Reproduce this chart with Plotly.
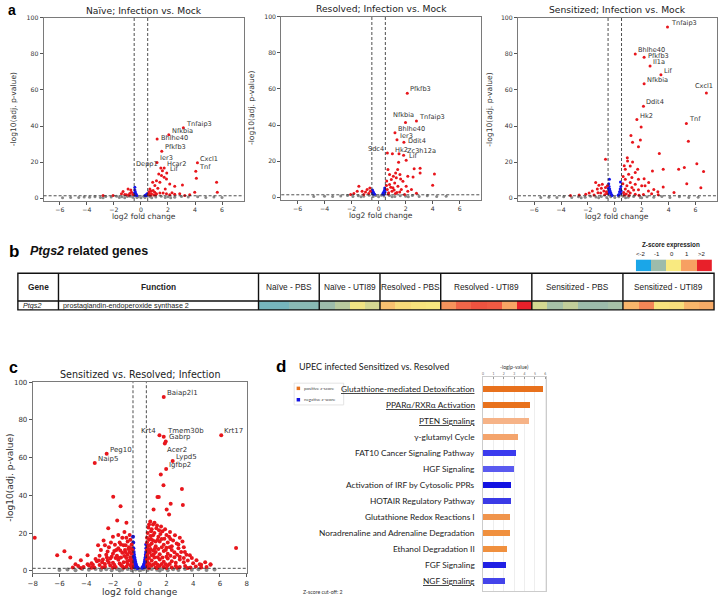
import plotly.graph_objects as go

W, H = 720, 598
def px(x): return x / W
def py(y): return 1 - y / H

FC_CUT = 0.5
P_CUT = 1.3

# ---------------- panel a1: Naive ----------------
naive_labels = ["Tnfaip3", "Nfkbia", "Bhlhe40", "Pfkfb3", "Ier3", "Depp1", "Hcar2", "Lif", "Cxcl1", "Tnf"]
naive_red = [(3.14, 39.1), (2.06, 35.2), (1.2, 32.8), (1.54, 26.0), (1.19, 19.8), (1.47, 16.7), (1.72, 16.7),
             (1.91, 14.0), (4.18, 19.6), (4.06, 14.9),
             (1.59, 15.2), (1.32, 13.4), (1.52, 12.5), (1.72, 11.6), (1.89, 10.6), (1.15, 9.7), (0.87, 8.8),
             (1.4, 8.8), (2.13, 7.9), (1.03, 7.0), (2.5, 6.6), (3.07, 7.3), (4.1, 11.0), (5.6, 8.8), (5.65, 3.3),
             (3.98, 3.3), (0.66, 5.1), (0.78, 2.4), (1.02, 3.3), (1.15, 2.4), (1.4, 2.9), (1.64, 2.9), (1.89, 2.4),
             (2.13, 1.8), (2.5, 2.2), (2.87, 2.4), (3.24, 1.5), (3.61, 1.8), (0.6, 3.5), (0.7, 1.6), (0.9, 4.2),
             (1.25, 5.5), (0.55, 2.0), (0.95, 1.7), (1.8, 5.0), (2.3, 3.0), (0.62, 2.8), (0.75, 3.9), (1.1, 1.9),
             (-1.32, 3.7), (-0.95, 5.1), (-0.83, 2.6), (-1.07, 1.8), (-1.44, 2.4), (-2.06, 1.5), (-2.8, 1.5),
             (-0.7, 3.3), (-0.6, 2.0), (-1.2, 2.0), (-0.75, 4.5), (-0.9, 1.6)]
naive_blue = [(-0.45, 6.0), (-0.45, 4.5), (-0.42, 3.5), (-0.48, 2.8), (-0.4, 2.2), (-0.35, 1.8), (-0.45, 1.6),
              (-0.3, 1.5), (0.3, 1.5), (0.38, 1.9), (0.45, 2.2), (0.42, 1.6), (0.48, 2.6), (0.35, 1.4), (-0.38, 2.6)]
naive_gray = [(-5.8, 0.2), (-5.2, 0.4), (-4.6, 0.3), (-4.2, 0.6), (-3.8, 0.5), (-3.4, 0.8), (-3.0, 0.4), (-2.6, 0.9),
              (-2.2, 0.6), (-1.8, 1.0), (-1.4, 0.7), (-1.0, 0.9), (-0.6, 0.5), (-0.3, 0.3), (0.0, 0.2), (0.3, 0.4),
              (0.7, 0.8), (1.1, 0.6), (1.5, 1.0), (2.0, 0.7), (2.5, 0.5), (3.0, 0.9), (3.5, 0.6), (4.2, 0.8),
              (4.8, 0.4), (5.4, 0.6), (6.0, 0.3), (-2.8, 0.2), (-1.2, 0.2), (0.8, 0.2), (2.2, 0.2), (-0.2, 0.8),
              (0.2, 1.0), (-1.6, 0.3), (1.8, 0.3), (-0.8, 1.1), (0.5, 1.1)]

# ---------------- panel a2: Resolved ----------------
resolved_labels = ["Pfkfb3", "Nfkbia", "Tnfaip3", "Bhlhe40", "Ier3", "Ddit4", "Sdc4", "Hk2", "Zc3h12a", "Lif"]
resolved_red = [(2.12, 57.6), (1.99, 41.4), (2.8, 42.2), (1.21, 35.7), (1.36, 31.9), (1.87, 30.4), (0.65, 24.5),
                (1.02, 24.1), (1.85, 23.2), (2.04, 20.4),
                (1.51, 24.1), (1.48, 19.3), (1.41, 15.3), (1.26, 13.4), (1.09, 11.6), (1.58, 12.5), (0.69, 15.3),
                (0.81, 12.5), (0.94, 9.8), (1.19, 7.9), (1.43, 6.1), (1.68, 4.2), (0.81, 7.0), (0.64, 4.2),
                (0.74, 2.4), (0.99, 3.3), (1.24, 2.0), (1.56, 2.8), (1.92, 1.5), (2.16, 3.3), (2.04, 6.1), (1.8, 8.8),
                (2.16, 11.6), (1.63, 10.1), (1.31, 10.7), (1.06, 5.2), (2.63, 15.8), (3.07, 16.0), (3.07, 13.4),
                (4.13, 12.9), (4.0, 6.6), (2.55, 11.2), (2.8, 2.2), (2.43, 4.2), (0.58, 6.5), (0.6, 9.0), (0.72, 1.7),
                (0.9, 5.5), (1.15, 4.0), (1.35, 2.5),
                (-1.46, 6.1), (-1.83, 2.0), (-1.22, 3.3), (-0.85, 4.2), (-0.73, 2.0), (-1.1, 1.5), (-1.58, 3.3),
                (-0.61, 3.3), (-0.97, 2.8), (-2.07, 1.5), (-0.65, 5.0)]
resolved_blue = [(-0.45, 4.0), (-0.4, 3.0), (-0.35, 2.2), (-0.45, 2.5), (-0.3, 1.6), (-0.42, 1.8), (0.3, 1.8),
                 (0.35, 2.5), (0.42, 3.5), (0.45, 5.0), (0.48, 2.8), (0.4, 1.6), (0.47, 4.2), (-0.48, 3.4)]
resolved_gray = [(-4.8, 0.3), (-4.0, 0.5), (-3.4, 0.3), (-2.8, 0.6), (-2.3, 0.9), (-1.9, 0.4), (-1.5, 0.8),
                 (-1.1, 0.5), (-0.7, 1.0), (-0.4, 0.4), (0.0, 0.2), (0.4, 0.6), (0.8, 0.9), (1.2, 0.4), (1.6, 0.8),
                 (2.0, 0.5), (2.5, 0.9), (3.0, 0.4), (3.6, 0.7), (4.3, 0.3), (5.0, 0.5), (-0.2, 0.9), (0.2, 1.1),
                 (-1.3, 0.2), (1.0, 0.2), (2.2, 0.2)]

# ---------------- panel a3: Sensitized ----------------
sensitized_labels = ["Tnfaip3", "Bhlhe40", "Pfkfb3", "Il1a", "Lif", "Nfkbia", "Cxcl1", "Ddit4", "Hk2", "Tnf"]
sensitized_red = [(3.92, 94.9), (1.52, 80.0), (2.18, 78.1), (2.62, 73.3), (3.43, 68.4), (2.18, 63.4), (6.81, 58.3),
                  (2.13, 50.9), (1.64, 43.6), (5.32, 41.4),
                  (1.96, 39.5), (5.47, 31.6), (1.2, 34.7), (1.32, 31.0), (1.9, 32.2), (1.76, 28.5), (3.31, 24.8),
                  (0.93, 22.4), (0.95, 20.6), (1.32, 20.0), (1.15, 17.8), (0.78, 16.0), (1.7, 16.0), (1.52, 14.2),
                  (1.03, 13.2), (1.27, 11.4), (0.78, 10.5), (1.76, 10.5), (2.18, 10.8), (1.15, 8.6), (1.52, 7.7),
                  (0.9, 6.8), (2.0, 6.8), (2.25, 6.8), (2.8, 15.0), (3.6, 16.0), (1.27, 5.9), (0.78, 5.0),
                  (1.76, 4.6), (2.5, 4.0), (0.66, 3.1), (1.15, 2.8), (1.52, 2.2), (2.13, 2.0), (2.74, 2.4),
                  (3.23, 1.8), (0.7, 1.7), (1.05, 1.5), (2.52, 8.6), (4.75, 16.0), (5.17, 17.0), (6.1, 19.1),
                  (6.6, 14.7), (6.4, 5.7), (5.35, 8.0), (3.6, 6.2), (4.4, 3.1), (0.6, 8.0), (0.62, 12.0),
                  (0.7, 18.0), (1.0, 3.8), (1.4, 4.5), (0.85, 2.3), (2.9, 4.8), (3.2, 3.5), (1.8, 1.6),
                  (-0.69, 21.5), (-1.42, 8.6), (-1.18, 7.2), (-0.93, 7.7), (-1.3, 5.0), (-1.67, 4.0), (-1.91, 2.8),
                  (-2.16, 2.2), (-0.69, 5.9), (-0.81, 4.0), (-1.05, 2.8), (-1.54, 1.7), (-2.65, 1.7), (-0.6, 2.5),
                  (-0.62, 3.5), (-0.75, 1.8), (-1.0, 5.5), (-1.25, 3.0), (-0.55, 6.8), (-3.3, 1.5)]
sensitized_blue = [(-0.4, 10.5), (-0.45, 8.0), (-0.42, 6.5), (-0.38, 5.0), (-0.35, 4.0), (-0.3, 3.0), (-0.25, 2.0),
                   (-0.45, 3.5), (-0.48, 5.5), (0.3, 2.0), (0.35, 3.5), (0.4, 5.0), (0.45, 6.5), (0.42, 9.0),
                   (0.48, 4.0), (0.25, 1.6), (-0.2, 1.5), (-0.47, 2.4), (0.47, 2.6), (-0.43, 4.5), (0.44, 4.5)]
sensitized_gray = [(-5.5, 0.3), (-4.9, 0.5), (-4.3, 0.3), (-3.8, 0.7), (-3.2, 0.4), (-2.7, 0.8), (-2.2, 0.5),
                   (-1.8, 1.0), (-1.4, 0.6), (-1.0, 0.9), (-0.6, 0.4), (-0.3, 0.8), (0.0, 0.3), (0.3, 0.7),
                   (0.6, 1.0), (1.0, 0.5), (1.4, 0.9), (1.9, 0.4), (2.4, 0.8), (2.9, 0.5), (3.5, 0.9), (4.1, 0.4),
                   (4.8, 0.7), (5.5, 0.3), (6.2, 0.5), (-2.5, 0.2), (-1.2, 0.2), (0.8, 0.2), (2.0, 0.2)]

# ---------------- panel c: Sensitized vs Resolved ----------------
svr_labels = ["Baiap2l1", "Krt4", "Tmem30b", "Gabrp", "Acer2", "Krt17", "Peg10", "Naip5", "Lypd5", "Igfbp2"]
svr_red = [(1.8, 92.1), (1.48, 71.8), (1.8, 71.0), (1.95, 68.6), (1.88, 67.5), (6.1, 71.9), (-2.47, 62.1),
           (-3.36, 57.2), (2.47, 58.2), (1.98, 53.9),
           (1.58, 51.0), (1.78, 45.4), (3.16, 43.3), (3.23, 34.9), (2.32, 35.6), (1.33, 39.1), (1.43, 39.1),
           (1.04, 32.5), (2.02, 32.5), (2.2, 29.8), (-1.98, 39.3), (-1.43, 34.2), (-7.85, 17.5), (-6.17, 8.2),
           (-5.63, 10.4), (-5.19, 7.0), (7.21, 12.1), (4.49, 3.5), (5.3, 3.5),
           # left cloud
           (-5.0, 1.8), (-4.6, 2.5), (-4.2, 2.0), (-3.8, 2.8), (-3.4, 1.8), (-3.0, 3.0), (-2.6, 2.2), (-2.2, 2.8),
           (-1.8, 2.0), (-1.4, 3.0), (-1.0, 2.2), (-0.7, 2.8), (-4.4, 1.5), (-3.6, 1.6), (-2.8, 1.7), (-2.0, 1.6),
           (-1.2, 1.6), (-0.6, 1.6), (-3.6, 4.0), (-3.2, 5.0), (-2.8, 4.5), (-2.4, 5.5), (-2.0, 4.2), (-1.6, 5.8),
           (-1.2, 4.5), (-0.8, 5.5), (-0.6, 4.0), (-2.2, 6.5), (-1.0, 6.8), (-1.4, 7.0), (-3.0, 8.0), (-2.5, 8.5),
           (-2.0, 9.0), (-1.7, 8.0), (-1.3, 9.5), (-0.9, 8.5), (-0.6, 9.0), (-1.9, 10.5), (-1.1, 11.0),
           (-2.3, 12.5), (-1.6, 12.0), (-1.2, 13.5), (-0.8, 12.5), (-0.6, 14.0), (-1.5, 15.0), (-2.6, 13.5),
           (-0.9, 15.5), (-3.11, 13.5), (-2.35, 22.6), (-1.14, 20.5), (-1.68, 26.7), (-0.99, 25.4), (-3.9, 8.2),
           (-4.4, 5.6), (-2.9, 11.0), (-2.0, 18.0), (-1.3, 17.5), (-0.75, 19.0), (-2.7, 16.0), (-1.8, 6.8),
           (-0.7, 7.2), (-2.6, 3.6), (-1.5, 3.8), (-0.9, 3.6), (-3.3, 6.3), (-1.3, 2.4), (-2.4, 10.2),
           (-0.55, 2.5), (-0.65, 6.0), (-0.75, 10.0), (-0.85, 11.5), (-0.65, 12.0), (-0.55, 11.0), (-1.05, 9.8),
           (-1.15, 7.8), (-1.45, 10.8), (-1.75, 11.0), (-1.55, 6.8), (-2.1, 7.5), (-2.45, 7.0), (-2.75, 6.0),
           (-3.05, 5.5), (-3.5, 3.2), (-3.9, 3.5), (-4.8, 3.5), (-0.7, 16.5), (-1.05, 13.5), (-1.4, 14.0),
           (-1.85, 13.8), (-2.15, 15.0), (-1.0, 17.5), (-1.6, 19.0), (-0.6, 5.2), (-0.95, 4.8), (-1.9, 3.2),
           (-2.3, 4.2),
           # right cloud
           (0.6, 2.0), (0.9, 2.8), (1.2, 1.8), (1.5, 2.6), (1.8, 2.0), (2.1, 2.8), (2.4, 1.8), (2.7, 2.5), (3.0, 2.0),
           (3.4, 2.6), (3.8, 1.8), (4.2, 2.3), (4.6, 1.7), (5.0, 2.0), (0.7, 1.5), (1.3, 1.5), (2.0, 1.5), (2.8, 1.6),
           (3.6, 1.5), (5.3, 3.2), (0.6, 4.5), (0.9, 5.5), (1.2, 4.2), (1.5, 6.0), (1.8, 4.8), (2.1, 6.5), (2.4, 5.0),
           (2.7, 4.2), (3.0, 6.0), (3.3, 4.5), (3.6, 5.5), (4.0, 4.0), (0.7, 6.8), (1.1, 7.0), (2.6, 7.2),
           (4.25, 5.6), (0.6, 9.0), (0.9, 8.2), (1.2, 10.0), (1.5, 8.8), (1.8, 10.5), (2.1, 9.0), (2.4, 11.0),
           (2.8, 8.5), (3.1, 10.0), (3.38, 10.0), (3.75, 8.2), (0.8, 11.5), (1.4, 11.5), (0.6, 13.0), (0.9, 14.5),
           (1.2, 13.0), (1.5, 15.5), (1.8, 13.8), (2.1, 15.0), (2.4, 13.0), (2.77, 14.4), (1.0, 16.0), (0.7, 16.5),
           (2.0, 12.2), (0.8, 18.5), (1.1, 20.0), (1.4, 18.0), (1.7, 21.0), (2.0, 19.0), (2.27, 20.5), (2.64, 18.8),
           (0.6, 20.0), (1.25, 22.5), (0.9, 22.0), (0.79, 26.1), (1.11, 25.4), (1.3, 24.0), (1.6, 23.5),
           (1.0, 24.5), (3.0, 17.5), (3.2, 15.5), (2.9, 12.0), (0.75, 3.6), (1.05, 3.4), (1.35, 3.2), (1.65, 3.6),
           (1.95, 3.4), (2.25, 3.6), (0.65, 11.0), (1.0, 10.8), (1.65, 16.8), (2.3, 16.8),
           (0.55, 3.0), (0.55, 6.0), (0.55, 8.0), (0.55, 11.0), (0.55, 15.0), (0.55, 17.5), (0.65, 23.0),
           (0.75, 13.5), (0.85, 16.8), (1.0, 18.8), (1.2, 15.5), (1.35, 16.5), (1.55, 19.5), (1.85, 17.0),
           (2.2, 18.0), (2.5, 16.0), (2.9, 14.0), (3.3, 12.5), (3.5, 8.5), (3.9, 6.8), (4.6, 3.2), (4.9, 4.5),
           (1.15, 12.0), (1.65, 12.5), (1.95, 11.0), (2.25, 12.5), (2.6, 9.8), (3.0, 7.5), (3.3, 6.8), (0.75, 9.8),
           (1.05, 8.8), (1.35, 7.2), (1.7, 7.0), (2.0, 7.5), (2.3, 8.0), (0.85, 21.0), (1.45, 21.5), (1.9, 22.0),
           (0.7, 24.5)]
svr_blue = [(-0.5, 18.0), (-0.48, 15.0), (-0.47, 12.0), (-0.45, 10.0), (-0.43, 8.5), (-0.4, 7.0), (-0.38, 6.0),
            (-0.35, 5.0), (-0.32, 4.0), (-0.28, 3.0), (-0.25, 2.4), (-0.2, 1.8), (-0.15, 1.5), (-0.45, 5.0),
            (-0.42, 3.0), (-0.48, 7.0), (-0.46, 2.0), (0.5, 12.0), (0.48, 10.0), (0.46, 8.5), (0.44, 7.0),
            (0.42, 6.0), (0.4, 5.0), (0.37, 4.0), (0.33, 3.2), (0.3, 2.6), (0.25, 2.0), (0.2, 1.6), (0.45, 4.0),
            (0.47, 3.0), (0.48, 5.5), (0.43, 2.2), (0.49, 14.0), (-0.49, 9.0), (0.49, 7.5), (-0.4, 4.0), (0.38, 2.4)]
svr_gray = [(-6.0, 0.4), (-5.4, 0.7), (-4.8, 0.3), (-4.3, 0.9), (-3.8, 0.5), (-3.3, 1.0), (-2.9, 0.4), (-2.5, 0.8),
            (-2.1, 0.3), (-1.7, 1.0), (-1.3, 0.5), (-0.9, 0.9), (-0.6, 0.3), (-0.3, 0.7), (0.0, 0.3), (0.3, 0.8),
            (0.6, 0.4), (0.9, 1.0), (1.3, 0.5), (1.7, 0.9), (2.1, 0.3), (2.5, 0.8), (2.9, 0.4), (3.4, 0.9),
            (3.9, 0.5), (4.4, 0.8), (5.0, 0.4), (5.6, 0.7), (-1.5, 0.1), (1.5, 0.1), (-0.1, 1.1), (0.1, 0.6)]

# ---------------- panel b: heatmap row (z-scores per sample) ----------------
groups = ["Naïve - PBS", "Naïve - UTI89", "Resolved - PBS", "Resolved - UTI89", "Sensitized - PBS", "Sensitized - UTI89"]
group_sizes = [4, 4, 4, 6, 6, 6]
ptgs2_z = [-1.3, -1.3, -1.15, -1.15,
           -1.0, -0.7, -0.1, -0.4,
           0.55, 0.2, 0.1, 0.05,
           1.1, 1.45, 1.6, 1.55, 0.95, 2.1,
           -0.4, -0.9, -0.6, -1.0, -1.0, -0.9,
           0.7, 1.2, 0.1, 0.15, 0.7, 0.85]
z_legend_vals = [-2, -1, 0, 1, 2]
z_legend_text = ["<-2", "-1", "0", "1", ">2"]

# ---------------- panel d: pathways ----------------
pathways = ["Glutathione-mediated Detoxification", "PPARα/RXRα Activation", "PTEN Signaling", "γ-glutamyl Cycle",
            "FAT10 Cancer Signaling Pathway", "HGF Signaling", "Activation of IRF by Cytosolic PPRs",
            "HOTAIR Regulatory Pathway", "Glutathione Redox Reactions I", "Noradrenaline and Adrenaline Degradation",
            "Ethanol Degradation II", "FGF Signaling", "NGF Signaling"]
neglogp = [5.81, 4.48, 4.42, 3.38, 3.16, 2.94, 2.72, 2.65, 2.62, 2.59, 2.34, 2.21, 2.11]
bar_colors = ["#e8711c", "#e8711c", "#f6b387", "#f4a46c", "#3b3bee", "#5a5af0", "#1212e2", "#3a3ae6",
              "#f0944c", "#f0903e", "#f0903e", "#2020e4", "#4444ea"]
underlined = [True, True, True, False, False, False, False, False, False, False, False, False, True]

RED, BLUE, GRAY = "#e8161c", "#1616ee", "#8a8a8a"
HEAT_SCALE = [[0, "#1aa6e8"], [0.25, "#9dbcab"], [0.5, "#f9ea80"], [0.75, "#f7a062"], [1, "#e8202a"]]

fig = go.Figure()
annotations = []
shapes = []
layout = {}

DJ = "DejaVu Sans"

def unzip(pts):
    return [p[0] for p in pts], [p[1] for p in pts]

def ax_ref(i):
    return ("x", "y") if i == 1 else (f"x{i}", f"y{i}")

def ax_key(i):
    return ("xaxis", "yaxis") if i == 1 else (f"xaxis{i}", f"yaxis{i}")

PLACE = {
    "r": dict(xanchor="left", yanchor="bottom", xshift=1, yshift=-2),
    "ru": dict(xanchor="left", yanchor="bottom", xshift=1, yshift=0),
    "rm": dict(xanchor="left", yanchor="middle", xshift=2, yshift=1),
    "l": dict(xanchor="right", yanchor="bottom", xshift=-1, yshift=-2),
    "c": dict(xanchor="center", yanchor="bottom", xshift=-2, yshift=1),
    "rb": dict(xanchor="left", yanchor="top", xshift=0, yshift=-1),
}

def volcano(i, red, blue, gray, labels, places, xdom, ydom, xr, yr, title, title_y, ylab_x,
            msize, tick_fs, lab_fs, title_fs, axt_fs, xtick_vals, xlab_off):
    xa, ya = ax_ref(i)
    kx, ky = ax_key(i)
    for pts, col in ((gray, GRAY), (blue, BLUE), (red, RED)):
        xs, ys = unzip(pts)
        fig.add_trace(go.Scatter(x=xs, y=ys, mode="markers", xaxis=xa, yaxis=ya, showlegend=False,
                                 marker=dict(size=msize, color=col, line=dict(width=0))))
    axis_common = dict(showgrid=False, zeroline=False, showline=True, mirror=True, linecolor="#7a7a7a",
                       linewidth=1, ticks="outside", ticklen=3, tickcolor="#555",
                       tickfont=dict(family=DJ, size=tick_fs, color="#333"))
    layout[kx] = dict(domain=[px(xdom[0]), px(xdom[1])], range=xr, anchor=ya,
                      tickvals=xtick_vals, **axis_common)
    layout[ky] = dict(domain=[py(ydom[1]), py(ydom[0])], range=yr, anchor=xa,
                      tickvals=[0, 20, 40, 60, 80, 100], **axis_common)
    dl = dict(color="#222", width=0.8, dash="3px,2px")
    shapes.append(dict(type="line", xref=xa, yref=f"{ya} domain", x0=-FC_CUT, x1=-FC_CUT, y0=0, y1=1, line=dl))
    shapes.append(dict(type="line", xref=xa, yref=f"{ya} domain", x0=FC_CUT, x1=FC_CUT, y0=0, y1=1, line=dl))
    shapes.append(dict(type="line", xref=f"{xa} domain", yref=ya, x0=0, x1=1, y0=P_CUT, y1=P_CUT, line=dl))
    for k, name in enumerate(labels):
        annotations.append(dict(xref=xa, yref=ya, x=red[k][0], y=red[k][1], text=name, showarrow=False,
                                font=dict(family=DJ, size=lab_fs, color="#333"), **PLACE[places[k]]))
    xc = (xdom[0] + xdom[1]) / 2
    annotations.append(dict(xref="paper", yref="paper", x=px(xc), y=py(title_y), text=title, showarrow=False,
                            font=dict(family=DJ, size=title_fs, color="#222"), xanchor="center", yanchor="middle"))
    annotations.append(dict(xref="paper", yref="paper", x=px(xc), y=py(ydom[1] + xlab_off), text="log2 fold change",
                            showarrow=False, font=dict(family=DJ, size=axt_fs, color="#333"),
                            xanchor="center", yanchor="middle"))
    annotations.append(dict(xref="paper", yref="paper", x=px(ylab_x), y=py((ydom[0] + ydom[1]) / 2),
                            text="-log10(adj. p-value)", showarrow=False, textangle=-90,
                            font=dict(family=DJ, size=axt_fs, color="#333"), xanchor="center", yanchor="middle"))

xt_a = [-6, -4, -2, 0, 2, 4, 6]
volcano(1, naive_red, naive_blue, naive_gray, naive_labels, ["r", "r", "rm", "r", "r", "l", "r", "r", "r", "r"],
        (39, 241), (14, 199), [-7.2, 7.6], [-1.6, 100], "Naïve; Infection vs. Mock", 7, 9,
        3, 6.2, 6.6, 9.2, 7.6, xt_a, 16)
volcano(2, resolved_red, resolved_blue, resolved_gray, resolved_labels, ["r", "c", "r", "r", "r", "rm", "l", "r", "r", "r"],
        (279, 481), (13, 198), [-7.2, 7.6], [-1.6, 100], "Resolved; Infection vs. Mock", 5, 249,
        3, 6.2, 6.6, 9.2, 7.6, xt_a, 16)
volcano(3, sensitized_red, sensitized_blue, sensitized_gray, sensitized_labels,
        ["r", "r", "rm", "r", "r", "r", "c", "r", "r", "r"],
        (518, 719), (14, 199), [-7.2, 7.6], [-1.6, 100], "Sensitized; Infection vs. Mock", 6, 489,
        3, 6.2, 6.6, 9.2, 7.6, xt_a, 16)
volcano(4, svr_red, svr_blue, svr_gray, svr_labels, ["r", "l", "ru", "r", "rb", "r", "r", "r", "r", "r"],
        (28, 244), (382, 575), [-8, 8], [-1.3, 100], "Sensitized vs. Resolved; Infection", 374, 5,
        4.0, 7.0, 7.0, 9.6, 9.0, [-8, -6, -4, -2, 0, 2, 4, 6, 8], 18.5)

# ---------------- panel b ----------------
ncell = len(ptgs2_z)
fig.add_trace(go.Heatmap(z=[ptgs2_z], x=list(range(ncell)), y=[0], xaxis="x6", yaxis="y6", zmin=-2, zmax=2,
                         colorscale=HEAT_SCALE, showscale=False, hoverinfo="skip"))
layout["xaxis6"] = dict(domain=[px(256), px(716)], range=[-0.5, ncell - 0.5], visible=False, anchor="y6")
layout["yaxis6"] = dict(domain=[py(309), py(300)], range=[-0.5, 0.5], visible=False, anchor="x6")

fig.add_trace(go.Heatmap(z=[z_legend_vals], x=list(range(len(z_legend_vals))), y=[0], xaxis="x7", yaxis="y7",
                         zmin=-2, zmax=2, colorscale=HEAT_SCALE, showscale=False, hoverinfo="skip"))
layout["xaxis7"] = dict(domain=[px(637), px(714)], range=[-0.5, 4.5], visible=False, anchor="y7")
layout["yaxis7"] = dict(domain=[py(270), py(258)], range=[-0.5, 0.5], visible=False, anchor="x7")
for k, t in enumerate(z_legend_text):
    annotations.append(dict(xref="x7", yref="paper", x=k, y=py(253), text=t, showarrow=False,
                            font=dict(family="Liberation Sans", size=6, color="#222"), xanchor="center",
                            yanchor="middle", xshift=-2))
annotations.append(dict(xref="x7", yref="paper", x=1.8, y=py(243), text="<b>Z-score expression</b>",
                        showarrow=False, font=dict(family="Liberation Sans", size=6.3, color="#222"),
                        xanchor="center", yanchor="middle"))

TL = dict(color="#111", width=1.4)
shapes.append(dict(type="rect", xref="paper", yref="paper", x0=px(13), x1=px(716), y0=py(309), y1=py(272), line=TL))
shapes.append(dict(type="line", xref="paper", yref="paper", x0=px(13), x1=px(716), y0=py(300), y1=py(300), line=TL))
for xv in (54, 256):
    shapes.append(dict(type="line", xref="paper", yref="paper", x0=px(xv), x1=px(xv), y0=py(309), y1=py(272), line=TL))
edges = [0]
for s in group_sizes:
    edges.append(edges[-1] + s)
for e in edges[1:-1]:
    shapes.append(dict(type="line", xref="x6", yref="paper", x0=e - 0.5, x1=e - 0.5, y0=py(309), y1=py(272), line=TL))
TF = dict(family="Liberation Sans", size=8.3, color="#222")
annotations.append(dict(xref="paper", yref="paper", x=px(33.5), y=py(286), text="<b>Gene</b>", showarrow=False,
                        font=TF, xanchor="center", yanchor="middle"))
annotations.append(dict(xref="paper", yref="paper", x=px(155), y=py(286), text="<b>Function</b>", showarrow=False,
                        font=TF, xanchor="center", yanchor="middle"))
for g, name in enumerate(groups):
    annotations.append(dict(xref="x6", yref="paper", x=(edges[g] + edges[g + 1] - 1) / 2, y=py(286), text=name,
                            showarrow=False, font=TF, xanchor="center", yanchor="middle"))
annotations.append(dict(xref="paper", yref="paper", x=px(16), y=py(304.8), text="<i>Ptgs2</i>", showarrow=False,
                        font=dict(family="Liberation Sans", size=7.2, color="#222"), xanchor="left", yanchor="middle"))
annotations.append(dict(xref="paper", yref="paper", x=px(57), y=py(304.8), text="prostaglandin-endoperoxide synthase 2",
                        showarrow=False, font=dict(family="Liberation Sans", size=7.2, color="#222"),
                        xanchor="left", yanchor="middle"))
annotations.append(dict(xref="paper", yref="paper", x=px(23), y=py(250), text="<b><i>Ptgs2</i> related genes</b>",
                        showarrow=False, font=dict(family="Liberation Sans", size=12.5, color="#111"),
                        xanchor="left", yanchor="middle"))

# ---------------- panel d ----------------
ypos = list(range(len(pathways)))
fig.add_trace(go.Bar(x=neglogp, y=ypos, orientation="h", xaxis="x5", yaxis="y5", width=0.37,
                     marker=dict(color=bar_colors, line=dict(width=0)), showlegend=False))
layout["xaxis5"] = dict(domain=[px(482.7), px(546.7)], range=[0, 6.1], side="top", anchor="y5",
                        tickvals=[0, 1, 2, 3, 4, 5, 6], ticks="inside", ticklen=2, tickcolor="#999",
                        tickfont=dict(family="Lato", size=3.4, color="#666"), showgrid=True, gridcolor="#eeeeee",
                        gridwidth=0.6, zeroline=False, showline=True, mirror=True, linecolor="#cccccc", linewidth=1)
layout["yaxis5"] = dict(domain=[py(593), py(377)], range=[12.63, -0.76], anchor="x5", showticklabels=False,
                        showgrid=False, zeroline=False, showline=True, mirror=True, linecolor="#cccccc", linewidth=1,
                        ticks="")
for k, name in enumerate(pathways):
    f = dict(family="Lato", size=8.3, color="#222")
    if underlined[k]:
        f["lineposition"] = "under"
    annotations.append(dict(xref="paper", yref="y5", x=px(477), y=k, text=name, showarrow=False, font=f,
                            xanchor="right", yanchor="middle"))
annotations.append(dict(xref="x5", yref="paper", x=3, y=py(367.0), text="-log(p-value)", showarrow=False,
                        font=dict(family="Lato", size=5.2, color="#333"), xanchor="center", yanchor="middle"))
annotations.append(dict(xref="paper", yref="paper", x=px(295), y=py(366), text="UPEC infected Sensitized vs. Resolved",
                        showarrow=False, font=dict(family="Lato", size=9, color="#222"), xanchor="left", yanchor="middle"))
shapes.append(dict(type="rect", xref="paper", yref="paper", x0=px(292), x1=px(342), y0=py(405), y1=py(383),
                   line=dict(color="#dddddd", width=0.8)))
shapes.append(dict(type="rect", xref="paper", yref="paper", x0=px(294.5), x1=px(298), y0=py(390), y1=py(386.5),
                   fillcolor="#e8711c", line=dict(width=0)))
shapes.append(dict(type="rect", xref="paper", yref="paper", x0=px(294.5), x1=px(298), y0=py(401.5), y1=py(398),
                   fillcolor="#1212e2", line=dict(width=0)))
annotations.append(dict(xref="paper", yref="paper", x=px(300), y=py(388.2), text="positive z-score", showarrow=False,
                        font=dict(family="Lato", size=4.4, color="#444"), xanchor="left", yanchor="middle"))
annotations.append(dict(xref="paper", yref="paper", x=px(300), y=py(399.8), text="negative z-score", showarrow=False,
                        font=dict(family="Lato", size=4.4, color="#444"), xanchor="left", yanchor="middle"))
annotations.append(dict(xref="paper", yref="paper", x=px(299), y=py(594), text="Z-score cut-off: 2", showarrow=False,
                        font=dict(family="Lato", size=5.2, color="#333"), xanchor="left", yanchor="middle"))

for letter, xx, yy, fs in (("a", 1, 6, 14), ("b", 2, 250, 17), ("c", 2, 367, 16), ("d", 272, 366, 17)):
    annotations.append(dict(xref="paper", yref="paper", x=px(xx), y=py(yy), text=f"<b>{letter}</b>", showarrow=False,
                            font=dict(family="Liberation Sans", size=fs, color="#000"), xanchor="left",
                            yanchor="middle"))

fig.update_layout(width=W, height=H, margin=dict(l=0, r=0, t=0, b=0), paper_bgcolor="white",
                  plot_bgcolor="white", showlegend=False, annotations=annotations, shapes=shapes,
                  bargap=0, **layout)
fig.write_html("out.html", config={"displayModeBar": False},
               post_script="document.body.style.margin='0';document.body.style.overflow='hidden';")
